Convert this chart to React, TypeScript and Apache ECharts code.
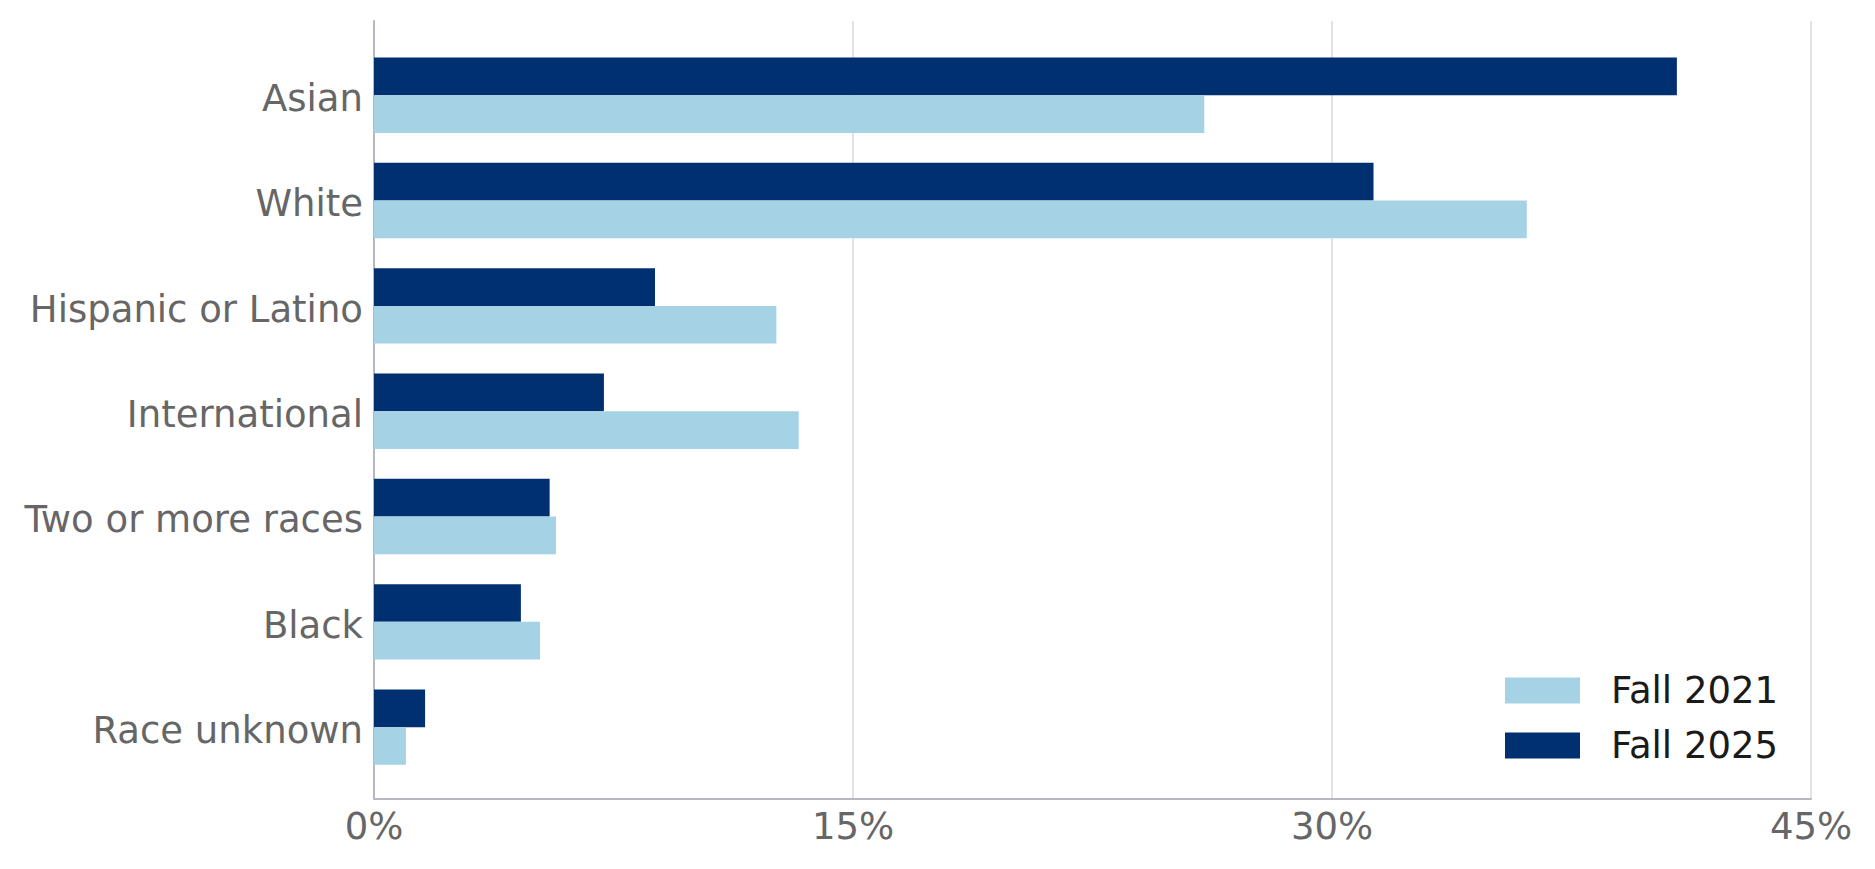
import React, { useEffect, useRef } from "react";
import * as echarts from "echarts";

const categories = ["Asian", "White", "Hispanic or Latino", "International", "Two or more races", "Black", "Race unknown"];
const fall2021 = [26.0, 36.1, 12.6, 13.3, 5.7, 5.2, 1.0];
const fall2025 = [40.8, 31.3, 8.8, 7.2, 5.5, 4.6, 1.6];
const seriesNames = ["Fall 2021", "Fall 2025"];
const xTicks = [0, 15, 30, 45];

const FONT = "DejaVu Sans";

export default function App() {
  const ref = useRef<HTMLDivElement>(null);
  useEffect(() => {
    if (!ref.current) return;
    const chart = echarts.init(ref.current, null, { renderer: "svg" });
    const L = 374, R = 1875 - 1811;
    const xMax = xTicks[xTicks.length - 1];
    const hiddenX = {
      type: "value", min: 0, max: xMax, interval: 15,
      axisLine: { show: false }, axisTick: { show: false }, axisLabel: { show: false }, splitLine: { show: false },
    };
    chart.setOption({
      animation: false,
      backgroundColor: "#ffffff",
      grid: [
        { left: L, right: R, top: 42.6, height: 737.2 },
        { left: L, right: R, top: 21, height: 778 },
        { left: L, right: R, top: 46, height: 737.2 },
      ],
      legend: {
        orient: "vertical",
        left: 1500,
        top: 667,
        itemWidth: 75,
        itemHeight: 26,
        itemGap: 18,
        icon: "rect",
        data: seriesNames,
        textStyle: { fontFamily: FONT, fontSize: 37, color: "#1a1a1a", padding: [0, 0, 0, 26], lineHeight: 37 },
      },
      xAxis: [
        { gridIndex: 0, ...hiddenX },
        {
          gridIndex: 1, type: "value", min: 0, max: xMax, interval: 15, z: 0,
          axisLine: { show: true, lineStyle: { color: "#b5b8c0", width: 2 } },
          axisTick: { show: false },
          axisLabel: { fontFamily: FONT, fontSize: 37, color: "#666666", margin: 9, formatter: (v: number) => v + "%" },
          splitLine: { show: true, lineStyle: { color: "#e3e3e3", width: 2 } },
        },
        { gridIndex: 2, ...hiddenX },
      ],
      yAxis: [
        {
          gridIndex: 0, type: "category", data: categories, inverse: true,
          axisLine: { show: false }, axisTick: { show: false }, axisLabel: { show: false },
        },
        {
          gridIndex: 1, type: "value", min: 0, max: 1, z: 0,
          axisLine: { show: true, lineStyle: { color: "#b5b8c0", width: 2 } },
          axisTick: { show: false }, axisLabel: { show: false }, splitLine: { show: false },
        },
        {
          gridIndex: 2, type: "category", data: categories, inverse: true,
          axisLine: { show: false }, axisTick: { show: false },
          axisLabel: { fontFamily: FONT, fontSize: 37, color: "#666666", margin: 11 },
        },
      ],
      series: [
        {
          name: seriesNames[1], type: "bar", xAxisIndex: 0, yAxisIndex: 0, data: fall2025,
          barWidth: 37.7, barGap: "0%", itemStyle: { color: "#00306f" }, z: 3,
        },
        {
          name: seriesNames[0], type: "bar", xAxisIndex: 0, yAxisIndex: 0, data: fall2021,
          barWidth: 37.7, barGap: "0%", itemStyle: { color: "#a6d2e5" }, z: 3,
        },
      ],
    });
    return () => chart.dispose();
  }, []);
  return <div ref={ref} style={{ position: "absolute", left: 0, top: 0, width: 1875, height: 869 }} />;
}
